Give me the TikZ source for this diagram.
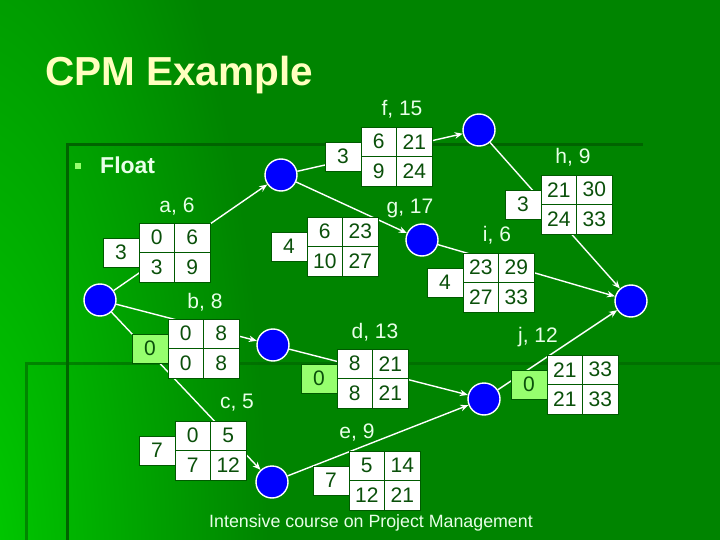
\documentclass[tikz,border=0pt]{standalone}
\usepackage{fontspec}
\setmainfont{Liberation Sans}
\usetikzlibrary{arrows.meta,fadings}

\definecolor{bggreen}{RGB}{0,132,0}
\definecolor{brightgreen}{RGB}{0,210,0}
\definecolor{decoline}{RGB}{0,100,0}
\definecolor{titlecol}{RGB}{255,255,190}
\definecolor{zerofill}{RGB}{150,255,110}
\definecolor{celltext}{RGB}{10,80,10}
\definecolor{boxline}{RGB}{0,90,0}
\definecolor{labelcol}{RGB}{232,255,232}
\definecolor{nodeblue}{RGB}{0,0,255}

\tikzfading[name=cornerfade, inner color=transparent!5, outer color=transparent!100]

\newcommand{\activity}[9]{%
  \node[cell] (#1es) at ({#2+17.75},{#3+14.75}) {#4};
  \node[cell] (#1ef) at ({#2+53.25},{#3+14.75}) {#5};
  \node[cell] (#1ls) at ({#2+17.75},{#3+44.25}) {#6};
  \node[cell] (#1lf) at ({#2+53.25},{#3+44.25}) {#7};
  \node[floatbox, fill=#9] (#1fl) at ({#2-18},{#3+29.5}) {#8};
}

\begin{document}
\begin{tikzpicture}[x=1pt,y=-1pt,
  cell/.style={draw=boxline, fill=white, line width=0.8pt, minimum width=35.5pt, minimum height=29.5pt,
    inner sep=0pt, text=celltext, font=\fontsize{21}{24}\selectfont},
  floatbox/.style={draw=boxline, line width=0.8pt, minimum width=36pt, minimum height=29pt,
    inner sep=0pt, text=celltext, font=\fontsize{21}{24}\selectfont},
  event/.style={circle, draw=white, fill=nodeblue, line width=1.4pt, minimum size=32pt, inner sep=0pt},
  conn/.style={draw=white, line width=1.4pt},
  arr/.style={conn, -{Stealth[length=8pt,width=6.5pt]}},
  actlabel/.style={text=labelcol, font=\fontsize{21}{24}\selectfont, inner sep=0pt},
  decor/.style={draw=decoline, line width=3pt}
]
% background
\useasboundingbox (0,0) rectangle (720,540);
\fill[bggreen] (0,0) rectangle (720,540);
\begin{scope}
  \clip (0,0) rectangle (720,540);
  \fill[brightgreen, path fading=cornerfade] (-30,580) ellipse [x radius=300pt, y radius=900pt];
\end{scope}
\draw[decor] (67,540) -- (67,145) -- (643,145);
\draw[decor, draw opacity=0.6] (26,540) -- (26,363) -- (720,363);

% title
\node[anchor=base west, inner sep=0pt, text=titlecol, font=\fontsize{40.5}{46}\selectfont\bfseries] (title) at (45,86) {CPM Example};

% bullet
\node[fill=zerofill, minimum size=6pt, inner sep=0pt] (bullet) at (78,166) {};
\node[anchor=base west, inner sep=0pt, text=labelcol, font=\fontsize{23}{26}\selectfont\bfseries] (floathead) at (100,174) {Float};

% events
\node[event] (n1) at (100,300) {};
\node[event] (n2) at (281,175) {};
\node[event] (n3) at (273,345) {};
\node[event] (n4) at (272,482) {};
\node[event] (n5) at (422,240) {};
\node[event] (n6) at (479,130) {};
\node[event] (n7) at (631,301) {};
\node[event] (n8) at (484,399) {};

% connectors
\draw[arr] (n1) -- (n2);
\draw[arr] (n1) -- (n3);
\draw[arr] (n1) -- (n4);
\draw[arr] (n2) -- (n6);
\draw[arr] (n2) -- (n5);
\draw[arr] (n6) -- (n7);
\draw[arr] (n5) -- (n7);
\draw[arr] (n3) -- (n8);
\draw[arr] (n4) -- (n8);
\draw[arr] (n8) -- (n7);

% activity boxes
\activity{a}{139}{223}{0}{6}{3}{9}{3}{white}
\activity{b}{168}{319}{0}{8}{0}{8}{0}{zerofill}
\activity{c}{175}{421}{0}{5}{7}{12}{7}{white}
\activity{f}{361}{127}{6}{21}{9}{24}{3}{white}
\activity{g}{307}{217}{6}{23}{10}{27}{4}{white}
\activity{h}{541}{175}{21}{30}{24}{33}{3}{white}
\activity{i}{463}{253}{23}{29}{27}{33}{4}{white}
\activity{d}{337}{349}{8}{21}{8}{21}{0}{zerofill}
\activity{e}{349}{451}{5}{14}{12}{21}{7}{white}
\activity{j}{547}{355}{21}{33}{21}{33}{0}{zerofill}

% activity labels
\node[actlabel] (la) at (177,207) {a, 6};
\node[actlabel] (lb) at (205,302) {b, 8};
\node[actlabel] (lc) at (237,403) {c, 5};
\node[actlabel] (lf) at (402,109) {f, 15};
\node[actlabel] (lg) at (410,208) {g, 17};
\node[actlabel] (lh) at (573,157) {h, 9};
\node[actlabel] (li) at (497,235) {i, 6};
\node[actlabel] (ld) at (375,332) {d, 13};
\node[actlabel] (le) at (357,433) {e, 9};
\node[actlabel] (lj) at (538,337) {j, 12};

% footer
\node[anchor=base, inner sep=0pt, text=labelcol, font=\fontsize{17.8}{20}\selectfont] (footer) at (371,527) {Intensive course on Project Management};
\end{tikzpicture}
\end{document}
